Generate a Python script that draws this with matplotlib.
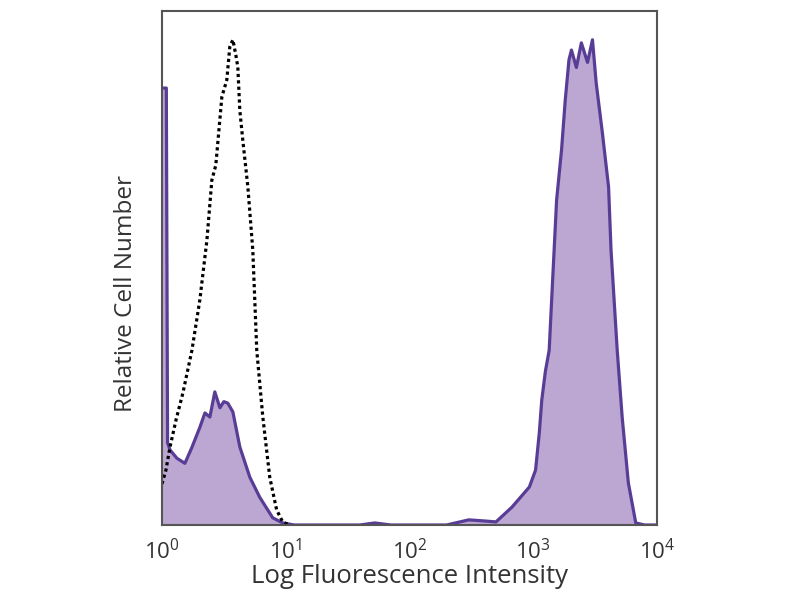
import numpy as np
from matplotlib import pyplot as plt

# isotype control (dashed), log10 intensity vs relative count (%)
iso_log = [0.0, 0.032, 0.065, 0.113, 0.169, 0.242, 0.306, 0.363, 0.403, 0.435, 0.484,
           0.524, 0.548, 0.573, 0.597, 0.613, 0.629, 0.653, 0.694, 0.734, 0.766,
           0.815, 0.871, 0.927, 0.976, 1.03]
iso_count = [8.0, 10.7, 15.2, 20.4, 25.7, 34.0, 43.8, 55.4, 67.1, 70.0, 83.3,
             86.6, 93.0, 94.4, 91.4, 89.1, 80.7, 74.9, 65.8, 53.5, 34.0,
             21.0, 9.3, 2.9, 0.6, 0.0]

# stained sample (filled purple)
stain_log = [0.0, 0.035, 0.045, 0.065, 0.12, 0.185, 0.24, 0.306, 0.347, 0.387, 0.427,
             0.468, 0.5, 0.532, 0.573, 0.629, 0.71, 0.79, 0.895, 0.976, 1.07,
             1.6, 1.72, 1.85, 2.3, 2.48, 2.6, 2.70, 2.83, 2.97, 3.02, 3.05, 3.07,
             3.10, 3.13, 3.15, 3.19, 3.23, 3.26, 3.29, 3.31, 3.35, 3.39, 3.44,
             3.48, 3.51, 3.56, 3.61, 3.63, 3.68, 3.72, 3.77, 3.83, 3.9, 4.0]
stain_count = [85.0, 85.0, 16.0, 14.6, 13.0, 12.0, 15.0, 19.0, 21.8, 21.0, 25.9,
               22.8, 24.0, 23.7, 22.0, 15.2, 9.3, 5.4, 1.4, 0.4, 0.0,
               0.0, 0.4, 0.0, 0.0, 1.0, 0.8, 0.6, 3.5, 7.4, 10.7, 17.9, 24.3,
               30.0, 34.0, 43.8, 63.2, 73.0, 82.7, 90.5, 92.4, 89.0, 93.8, 90.0,
               94.4, 86.0, 76.3, 65.8, 53.5, 34.0, 21.0, 8.2, 0.4, 0.0, 0.0]

tick_vals = [1, 10, 100, 1000, 10000]
tick_labels = [r"$10^0$", r"$10^1$", r"$10^2$", r"$10^3$", r"$10^4$"]

plt.rcParams['font.family'] = ['Open Sans', 'DejaVu Sans']
plt.rcParams['mathtext.fontset'] = 'custom'
plt.rcParams['mathtext.rm'] = 'Open Sans'
plt.rcParams['mathtext.it'] = 'Open Sans'

fig = plt.figure(figsize=(8, 6), dpi=100)
ax = fig.add_axes([0.2025, 0.125, 0.6185, 0.8567])

sx = 10 ** np.array(stain_log)
ix = 10 ** np.array(iso_log)

ax.fill_between(sx, stain_count, 0, color="#bca6d2", linewidth=0)
ax.plot(sx, stain_count, color="#583d96", linewidth=2.3)
ax.plot(ix, iso_count, color="black", linewidth=2.3, linestyle=(0, (1, 1)))

ax.set_xscale("log")
ax.set_xlim(1, 10000)
ax.set_ylim(0, 100)
ax.set_xticks(tick_vals)
ax.set_xticklabels(tick_labels, fontsize=16, color="#333333")
ax.minorticks_off()
ax.set_yticks([])
ax.tick_params(axis="x", length=0, pad=10)

for s in ax.spines.values():
    s.set_color("#555555")
    s.set_linewidth(1.5)

ax.set_xlabel("Log Fluorescence Intensity", fontsize=18.5, color="#333333", labelpad=0)
ax.set_ylabel("Relative Cell Number", fontsize=17.5, color="#333333")
ax.yaxis.set_label_coords(-0.048, 0.45)

fig.savefig("out.png", dpi=100)
